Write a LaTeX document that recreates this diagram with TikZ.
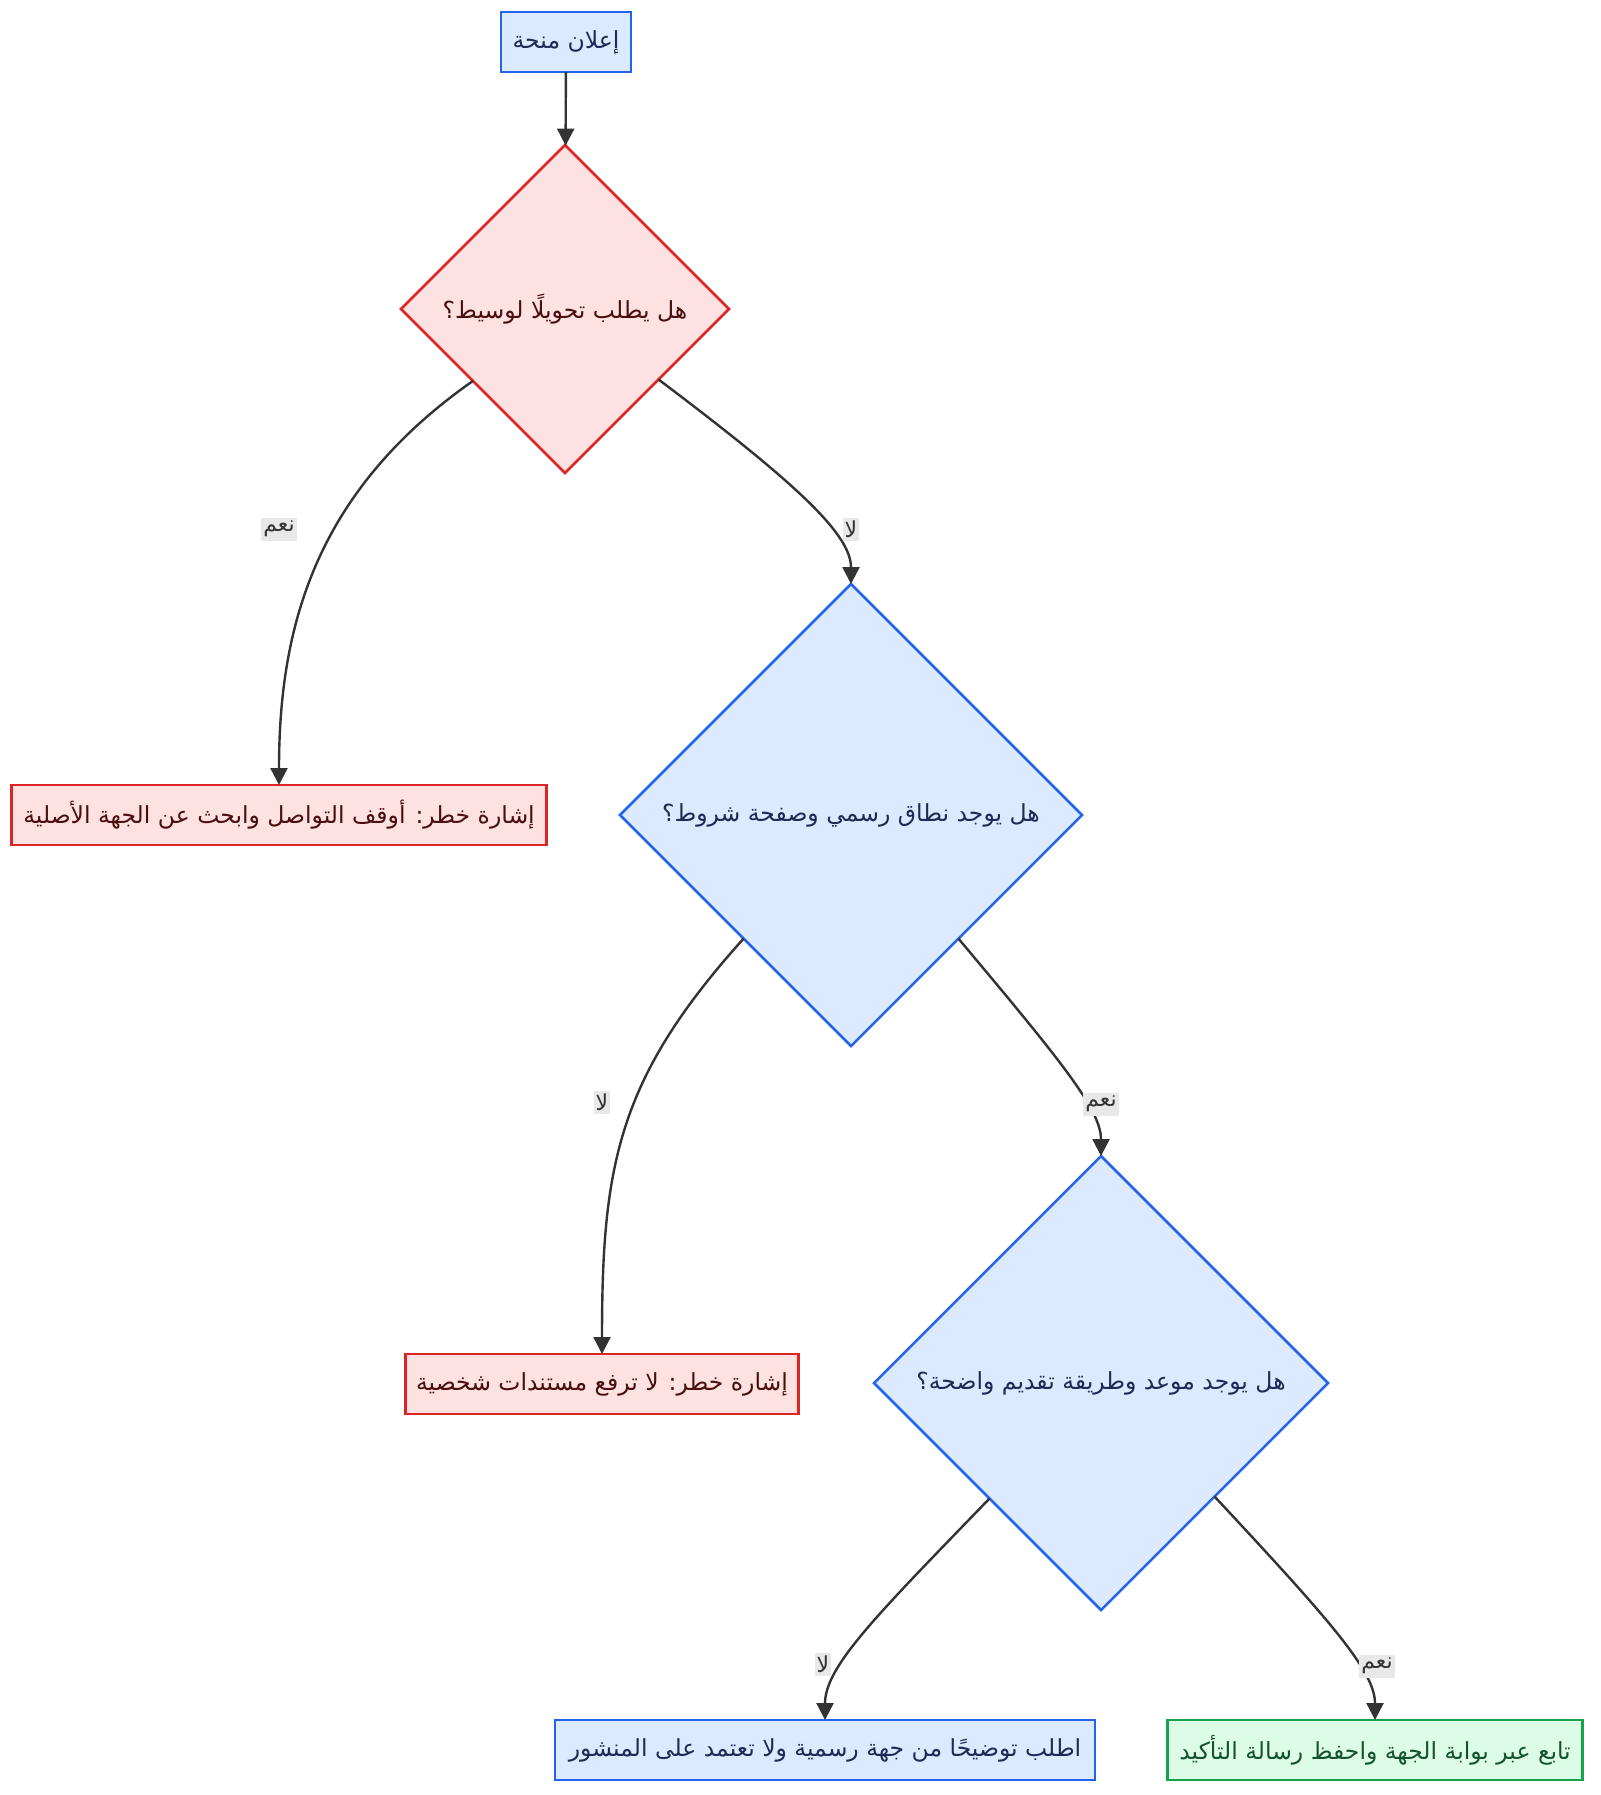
\documentclass[tikz,border=0pt]{standalone}
\usepackage{fontspec}
\setmainfont{DejaVu Sans}
\newfontfamily\arabicfont[Script=Arabic]{DejaVu Sans}
\TeXXeTstate=1
\usetikzlibrary{shapes.geometric,arrows.meta}
\definecolor{bluefill}{HTML}{DBEAFE}
\definecolor{blueline}{HTML}{2563EB}
\definecolor{bluetext}{HTML}{1E2A55}
\definecolor{redfill}{HTML}{FEE2E2}
\definecolor{redline}{HTML}{DC2626}
\definecolor{redtext}{HTML}{4A0E0E}
\definecolor{greenfill}{HTML}{DCFCE7}
\definecolor{greenline}{HTML}{16A34A}
\definecolor{greentext}{HTML}{14532D}
\definecolor{edgecol}{HTML}{333333}
\definecolor{lblfill}{HTML}{E8E8E8}
\tikzset{
  box/.style={rectangle, draw, line width=2.5pt, minimum height=60pt,
    inner sep=0pt, outer sep=0pt, font=\fontsize{23.5}{28}\selectfont\arabicfont},
  bluebox/.style={box, fill=bluefill, draw=blueline, text=bluetext},
  redbox/.style={box, fill=redfill, draw=redline, text=redtext},
  greenbox/.style={box, fill=greenfill, draw=greenline, text=greentext},
  ask/.style={diamond, draw, line width=2.5pt, inner sep=0pt, outer sep=0pt,
    font=\fontsize{23.5}{28}\selectfont\arabicfont},
  blueask/.style={ask, fill=bluefill, draw=blueline, text=bluetext},
  redask/.style={ask, fill=redfill, draw=redline, text=redtext},
  edge/.style={draw=edgecol, line width=2.4pt, -{Triangle[length=17pt,width=17pt]}},
  lbl/.style={fill=lblfill, text=edgecol, inner xsep=2pt, inner ysep=0pt,
    minimum height=23pt, font=\fontsize{22}{26}\selectfont\arabicfont},
}
\begin{document}
\begin{tikzpicture}[x=1pt,y=1pt]
  \useasboundingbox (0,0) rectangle (1600,-1795);
  \path (566,-42) node[bluebox, minimum width=130pt] (offer) {\beginR إعلان منحة\endR};
  \path (565,-309) node[redask, minimum size=328pt] (broker) {\beginR هل يطلب تحويلًا لوسيط؟\endR};
  \path (279,-815) node[redbox, minimum width=535pt] (stop) {\beginR إشارة خطر: أوقف التواصل وابحث عن الجهة الأصلية\endR};
  \path (851,-815) node[blueask, minimum size=462pt] (domain) {\beginR هل يوجد نطاق رسمي وصفحة شروط؟\endR};
  \path (602,-1384) node[redbox, minimum width=393pt] (noupload) {\beginR إشارة خطر: لا ترفع مستندات شخصية\endR};
  \path (1101,-1383) node[blueask, minimum size=454pt] (deadline) {\beginR هل يوجد موعد وطريقة تقديم واضحة؟\endR};
  \path (825,-1750) node[bluebox, minimum width=540pt] (clarify) {\beginR اطلب توضيحًا من جهة رسمية ولا تعتمد على المنشور\endR};
  \path (1375,-1750) node[greenbox, minimum width=415pt] (portal) {\beginR تابع عبر بوابة الجهة واحفظ رسالة التأكيد\endR};
  \draw[edge] (offer) -- (broker);
  \draw[edge] (broker.218) to[out=215, in=90, out looseness=1.1, in looseness=0.9] (stop.north);
  \draw[edge] (broker.-37) to[out=-37, in=90, out looseness=1.6, in looseness=0.45] (domain.north);
  \draw[edge] (domain.229) to[out=228, in=90, out looseness=1.1, in looseness=1.1] (noupload.north);
  \draw[edge] (domain.-49) to[out=-50, in=90, out looseness=1.6, in looseness=0.45] (deadline.north);
  \draw[edge] (deadline.226) to[out=226, in=90, out looseness=1.5, in looseness=0.5] (clarify.north);
  \draw[edge] (deadline.-45.5) to[out=-47, in=90, out looseness=1.6, in looseness=0.45] (portal.north);
  \path (279,-529) node[lbl] (yes1) {\beginR نعم\endR};
  \path (851,-529) node[lbl] (no1) {\beginR لا\endR};
  \path (602,-1102) node[lbl] (no2) {\beginR لا\endR};
  \path (1101,-1104) node[lbl] (yes2) {\beginR نعم\endR};
  \path (823,-1664) node[lbl] (no3) {\beginR لا\endR};
  \path (1377,-1666) node[lbl] (yes3) {\beginR نعم\endR};
\end{tikzpicture}
\end{document}
